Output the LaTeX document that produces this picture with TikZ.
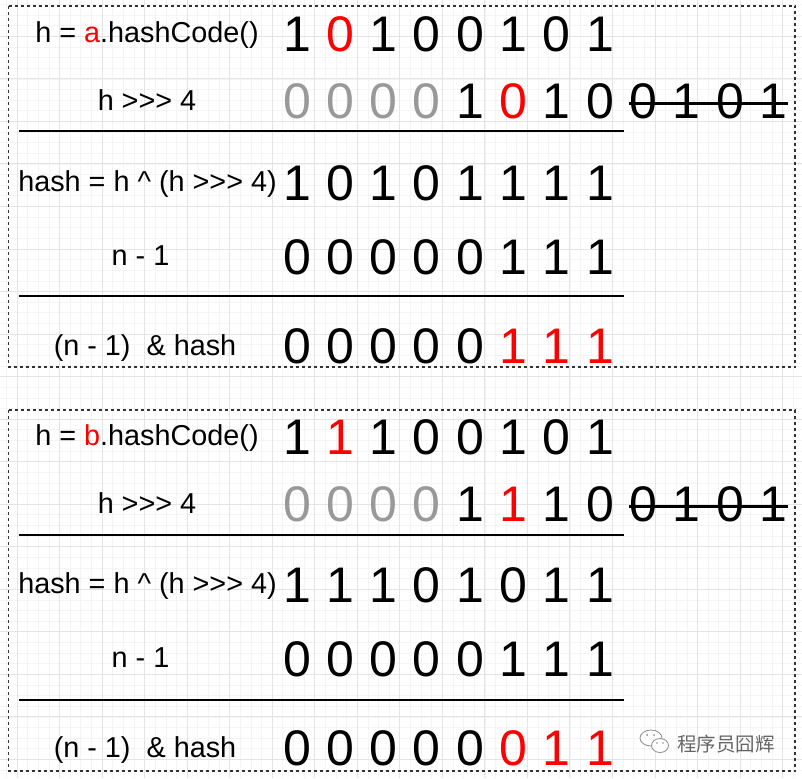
\documentclass[tikz,border=0pt]{standalone}
\usepackage{fontspec}
\setmainfont{Liberation Sans}[Ligatures=TeXOff]
\newfontfamily\cjk{Noto Sans CJK SC}
\definecolor{myred}{RGB}{255,0,0}
\definecolor{mygray}{RGB}{153,153,153}
\definecolor{majgrid}{RGB}{228,228,228}
\definecolor{mingrid}{RGB}{244,244,244}
\newcommand\digrow[4]{%
  \foreach \d/\c [count=\k from #4] in {#3} {%
    \node[dig, text=\c] (#1-\k) at ({296.9+43.3*\k}, #2) {\d};}}
\begin{document}
\begin{tikzpicture}[x=1pt,y=-1pt,
  dig/.style={font=\fontsize{50}{50}\selectfont, inner sep=0pt, anchor=base},
  lab/.style={font=\fontsize{28.8}{28.8}\selectfont, inner sep=0pt, anchor=base},
  frame/.style={draw=black!80, line width=1.2pt, dash pattern=on 3pt off 3pt},
  rulebar/.style={draw=black, line width=2pt},
  strikebar/.style={draw=black, line width=3pt},
  mingridline/.style={draw=mingrid, line width=0.8pt},
  majgridline/.style={draw=majgrid, line width=1pt}]
\fill[white] (0,0) rectangle (802,778);
\useasboundingbox (0,0) rectangle (802,778);
% grid
\foreach \i in {-1,...,74} {\draw[mingridline] ({17.05+10.633*\i},0) -- ({17.05+10.633*\i},778);}
\foreach \j in {-3,...,69} {\draw[mingridline] (0,{36.4+10.633*\j}) -- (802,{36.4+10.633*\j});}
\foreach \m in {0,...,18} {\draw[majgridline] ({17.05+42.53*\m},0) -- ({17.05+42.53*\m},778);}
\foreach \m in {0,...,17} {\draw[majgridline] (0,{36.4+42.53*\m}) -- (802,{36.4+42.53*\m});}

% ---------- box 1 ----------
\draw[frame] (8.5,6) rectangle (795,367);
\node[lab] (a1) at (147,42.5) {h = \textcolor{myred}{a}.hashCode()};
\node[lab] (a2) at (147,110.5) {h >>> 4};
\node[lab] (a3) at (147.5,191) {hash = h \^{} (h >>> 4)};
\node[lab] (a4) at (140.5,265) {n - 1};
\node[lab] (a5) at (145,355) {(n - 1)\ \ \& hash};
\digrow{ar1}{52}{1/black,0/myred,1/black,0/black,0/black,1/black,0/black,1/black}{0}
\digrow{ar2}{119}{0/mygray,0/mygray,0/mygray,0/mygray,1/black,0/myred,1/black,0/black}{0}
\digrow{ar2}{119}{0/black,1/black,0/black,1/black}{8}
\draw[strikebar] (629,104) -- (788,104);
\draw[rulebar] (19,131.5) -- (624,131.5);
\digrow{ar3}{200}{1/black,0/black,1/black,0/black,1/black,1/black,1/black,1/black}{0}
\digrow{ar4}{274}{0/black,0/black,0/black,0/black,0/black,1/black,1/black,1/black}{0}
\draw[rulebar] (19,296) -- (624,296);
\digrow{ar5}{363}{0/black,0/black,0/black,0/black,0/black,1/myred,1/myred,1/myred}{0}

% ---------- box 2 ----------
\draw[frame] (8.5,410) rectangle (795,771);
\node[lab] (b1) at (147,445) {h = \textcolor{myred}{b}.hashCode()};
\node[lab] (b2) at (147,513) {h >>> 4};
\node[lab] (b3) at (147.5,593.5) {hash = h \^{} (h >>> 4)};
\node[lab] (b4) at (140.5,667.5) {n - 1};
\node[lab] (b5) at (145,757.5) {(n - 1)\ \ \& hash};
\digrow{br1}{454.5}{1/black,1/myred,1/black,0/black,0/black,1/black,0/black,1/black}{0}
\digrow{br2}{521.5}{0/mygray,0/mygray,0/mygray,0/mygray,1/black,1/myred,1/black,0/black}{0}
\digrow{br2}{521.5}{0/black,1/black,0/black,1/black}{8}
\draw[strikebar] (629,506.5) -- (788,506.5);
\draw[rulebar] (19,535) -- (624,535);
\digrow{br3}{602.5}{1/black,1/black,1/black,0/black,1/black,0/black,1/black,1/black}{0}
\digrow{br4}{676.5}{0/black,0/black,0/black,0/black,0/black,1/black,1/black,1/black}{0}
\draw[rulebar] (19,700) -- (624,700);
\digrow{br5}{765.5}{0/black,0/black,0/black,0/black,0/black,0/myred,1/myred,1/myred}{0}

% ---------- watermark ----------
\draw[black!45, line width=0.8pt, fill=white] (651,738) ellipse (11 and 8);
\draw[black!45, line width=0.8pt, fill=white] (660,745.5) ellipse (8.5 and 7);
\fill[black!45] (647,735) circle (1) (654,735) circle (1) (657,743) circle (0.9) (663,743) circle (0.9);
\node[font=\cjk\fontsize{19.5}{19.5}\selectfont, text=black!60, inner sep=0pt, anchor=base west] (wm) at (677,751) {程序员囧辉};
\end{tikzpicture}
\end{document}
